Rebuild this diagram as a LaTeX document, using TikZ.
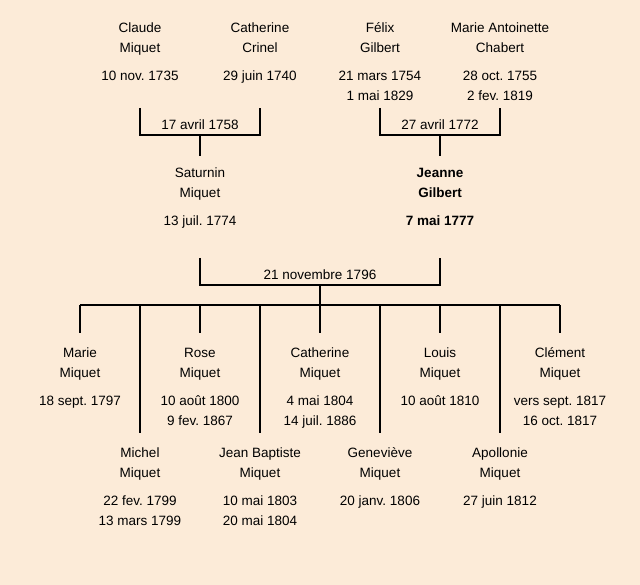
\documentclass[tikz,border=0pt]{standalone}
\usepackage{fontspec}
\setmainfont{Liberation Sans}
\frenchspacing
\definecolor{parchment}{RGB}{252,235,216}
\tikzset{
  person/.style={anchor=north, inner sep=0pt, align=center, font=\fontsize{13.5}{20}\selectfont},
  wedding/.style={anchor=base, inner sep=0pt, font=\fontsize{13.5}{16}\selectfont},
  link/.style={line width=1.6pt}
}
\begin{document}
\begin{tikzpicture}[x=1pt, y=-1pt]
\fill[parchment] (0,0) rectangle (640,585);
\useasboundingbox (0,0) rectangle (640,585);
% grandparents
\node[person] (ClaudeM) at (140,18) {\strut Claude\\Miquet\\[8pt]10 nov. 1735};
\node[person] (CatherineC) at (260,18) {\strut Catherine\\Crinel\\[8pt]29 juin 1740};
\node[person] (FelixG) at (380,18) {\strut Félix\\Gilbert\\[8pt]21 mars 1754\\1 mai 1829};
\node[person] (MarieAC) at (500,18) {\strut Marie Antoinette\\Chabert\\[8pt]28 oct. 1755\\2 fev. 1819};
% parents
\node[person] (Saturnin) at (200,163) {\strut Saturnin\\Miquet\\[8pt]13 juil. 1774};
\node[person, font=\fontsize{13.5}{20}\selectfont\bfseries] (Jeanne) at (440,163) {\strut Jeanne\\Gilbert\\[8pt]7 mai 1777};
% children
\node[person] (Marie) at (80,343.5) {\strut Marie\\Miquet\\[8pt]18 sept. 1797};
\node[person] (Michel) at (140,443.5) {\strut Michel\\Miquet\\[8pt]22 fev. 1799\\13 mars 1799};
\node[person] (Rose) at (200,343.5) {\strut Rose\\Miquet\\[8pt]10 août 1800\\9 fev. 1867};
\node[person] (JeanB) at (260,443.5) {\strut Jean Baptiste\\Miquet\\[8pt]10 mai 1803\\20 mai 1804};
\node[person] (Catherine) at (320,343.5) {\strut Catherine\\Miquet\\[8pt]4 mai 1804\\14 juil. 1886};
\node[person] (Genevieve) at (380,443.5) {\strut Geneviève\\Miquet\\[8pt]20 janv. 1806};
\node[person] (Louis) at (440,343.5) {\strut Louis\\Miquet\\[8pt]10 août 1810};
\node[person] (Apollonie) at (500,443.5) {\strut Apollonie\\Miquet\\[8pt]27 juin 1812};
\node[person] (Clement) at (560,343.5) {\strut Clément\\Miquet\\[8pt]vers sept. 1817\\16 oct. 1817};
% weddings
\coordinate (top1) at (200,108);
\coordinate (bar1) at (200,135);
\coordinate (top2) at (440,108);
\coordinate (bar2) at (440,135);
\coordinate (top3) at (320,258);
\coordinate (bar3) at (320,285);
\coordinate (kids) at (320,305);
\node[wedding] (wed1) at (200,130) {17 avril 1758};
\node[wedding] (wed2) at (440,130) {27 avril 1772};
\node[wedding] (wed3) at (320,280) {21 novembre 1796};
\draw[link] (ClaudeM |- top1) -- (ClaudeM |- bar1) -- (CatherineC |- bar1) -- (CatherineC |- top1);
\draw[link] (FelixG |- top2) -- (FelixG |- bar2) -- (MarieAC |- bar2) -- (MarieAC |- top2);
\draw[link, shorten >=7pt] (bar1) -- (Saturnin.north);
\draw[link, shorten >=7pt] (bar2) -- (Jeanne.north);
\draw[link] (Saturnin |- top3) -- (Saturnin |- bar3) -- (Jeanne |- bar3) -- (Jeanne |- top3);
\draw[link] (bar3) -- (kids);
\draw[link] (Marie |- kids) -- (Clement |- kids);
\foreach \kid in {Marie,Michel,Rose,JeanB,Catherine,Genevieve,Louis,Apollonie,Clement}
  \draw[link, shorten >=10.5pt] (\kid |- kids) -- (\kid.north);
\end{tikzpicture}
\end{document}
